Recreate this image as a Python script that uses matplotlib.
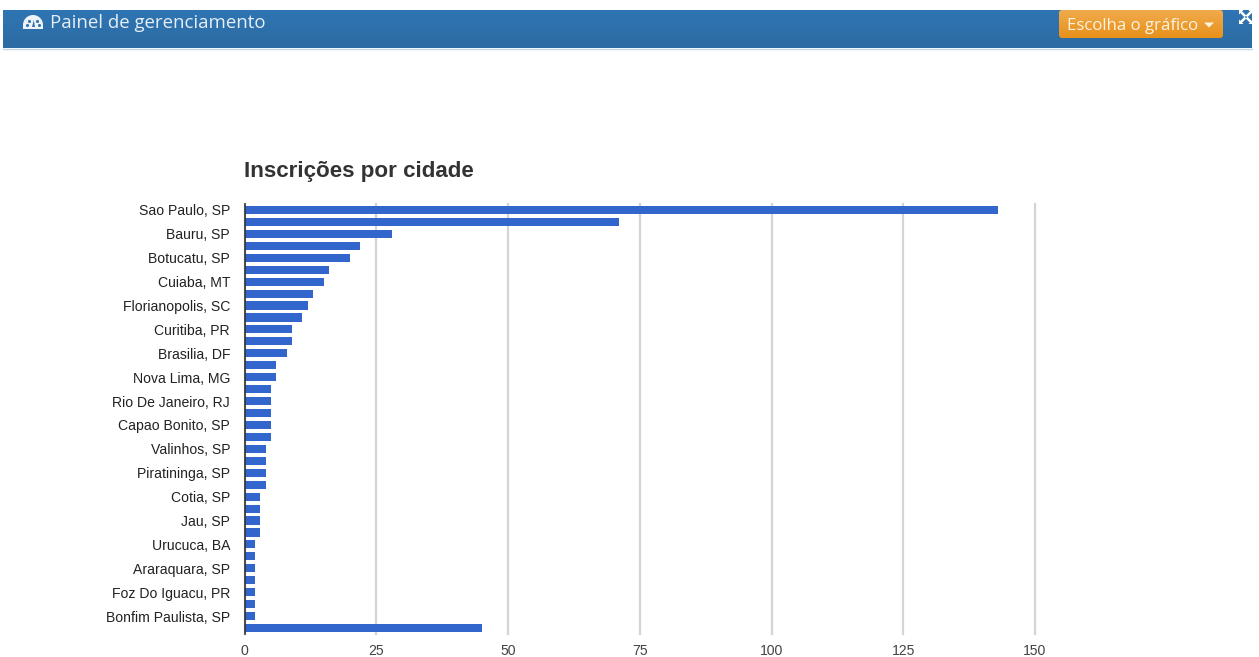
"""
Inscrições por cidade - painel de gerenciamento
"""
import numpy as np
import matplotlib
matplotlib.use('Agg')
from matplotlib import pyplot as plt
from matplotlib.colors import LinearSegmentedColormap
from matplotlib.patches import FancyBboxPatch, Wedge, Polygon, Rectangle

W, H = 1259, 657

# 只有偶数位的城市显示标签
cityLabels = ['Sao Paulo, SP', 'Bauru, SP', 'Botucatu, SP', 'Cuiaba, MT',
              'Florianopolis, SC', 'Curitiba, PR', 'Brasilia, DF',
              'Nova Lima, MG', 'Rio De Janeiro, RJ', 'Capao Bonito, SP',
              'Valinhos, SP', 'Piratininga, SP', 'Cotia, SP', 'Jau, SP',
              'Urucuca, BA', 'Araraquara, SP', 'Foz Do Iguacu, PR',
              'Bonfim Paulista, SP']
inscricoes = [143, 71, 28, 22, 20, 16, 15, 13, 12, 11, 9, 9, 8, 6, 6, 5, 5, 5,
              5, 5, 4, 4, 4, 4, 3, 3, 3, 3, 2, 2, 2, 2, 2, 2, 2, 45]
xTicks = [0, 25, 50, 75, 100, 125, 150]

plt.rcParams['font.family'] = ['Liberation Sans', 'DejaVu Sans']

fig = plt.figure(figsize=(W / 100, H / 100), dpi=100, facecolor='white')

# 页面层, 像素坐标
bg = fig.add_axes([0, 0, 1, 1])
bg.axis('off')

# 顶部蓝色条
grad = np.linspace(0, 1, 40).reshape(-1, 1)
bg.imshow(grad, extent=(3, 1252, 48, 10), aspect='auto', zorder=1,
          cmap=LinearSegmentedColormap.from_list('bar', ['#2f75b3', '#2c6ba3']))
bg.plot([3, 1252], [48.5, 48.5], color='#c5d8ea', lw=1, zorder=2)

# 仪表盘图标
iconColor = '#eef3f8'
bg.add_patch(Wedge((33, 25), 10, 180, 360, facecolor=iconColor, lw=0, zorder=3))
bg.add_patch(Rectangle((23, 25), 20, 4, facecolor=iconColor, lw=0, zorder=3))
bg.add_patch(Polygon([(32, 27), (35, 27), (33.8, 20)], facecolor='#2f75b3', zorder=4))
bg.scatter([27, 29.5, 37, 39.5], [25, 20.5, 20.5, 25], s=5, color='#2f75b3', zorder=4, linewidths=0)
bg.text(50, 22.5, 'Painel de gerenciamento', color='#e6eef6', fontsize=13.45,
        family='Open Sans', va='center', ha='left', zorder=3)

# 下拉按钮
btn = FancyBboxPatch((1061, 12), 160, 24, boxstyle='round,pad=2,rounding_size=3',
                     facecolor='none', edgecolor='none', zorder=3)
bg.add_patch(btn)
btnFill = bg.imshow(grad, extent=(1059, 1223, 38, 10), aspect='auto', zorder=3,
                    cmap=LinearSegmentedColormap.from_list('btn', ['#f0ab4c', '#e8911a']))
btnFill.set_clip_path(btn)
bg.text(1067, 25.5, 'Escolha o gráfico', color='#fdf3e3', fontsize=12.1,
        family='Open Sans', va='center', ha='left', zorder=4)
bg.add_patch(Polygon([(1204, 22.5), (1214, 22.5), (1209, 27.5)], facecolor='#fdf3e3', lw=0, zorder=4))

# 右上角展开图标
iconBox = Rectangle((1238, 10), 14, 18, transform=bg.transData, facecolor='none', lw=0)
bg.add_patch(iconBox)
for dx, dy in [(-1, -1), (1, -1), (-1, 1), (1, 1)]:
    cx, cy = 1246, 17
    line, = bg.plot([cx + dx * 1.5, cx + dx * 5], [cy + dy * 1.5, cy + dy * 5],
                    color='white', lw=1.8, zorder=4)
    tri = Polygon([(cx + dx * 7, cy + dy * 7), (cx + dx * 2.5, cy + dy * 7), (cx + dx * 7, cy + dy * 2.5)],
                  facecolor='white', lw=0, zorder=4)
    bg.add_patch(tri)
    tri.set_clip_path(iconBox)
    line.set_clip_path(iconBox)

bg.set_xlim(0, W)
bg.set_ylim(H, 0)

# 图表
ax = fig.add_axes([244.5 / W, 1 - 634 / H, (1035 - 244.5) / W, (634 - 204) / H], zorder=5)
ax.patch.set_alpha(0)
pos = np.arange(len(inscricoes))
ax.barh(pos, inscricoes, height=0.68, color='#3366cc', zorder=3)
ax.set_xlim(0, 150)
ax.set_ylim(len(inscricoes) - 0.5, -0.5)
ax.set_yticks(pos[:len(cityLabels) * 2][::2])
ax.set_yticklabels(cityLabels, fontsize=10.05, color='#222222')
ax.set_xticks(xTicks)
ax.set_xticklabels(xTicks, fontsize=10.05, color='#444444')
ax.tick_params(axis='both', length=0)
ax.tick_params(axis='y', pad=10.4)
ax.tick_params(axis='x', pad=7.2)
ax.grid(axis='x', color='#d4d4d4', lw=1.6, zorder=0)
for gl in ax.get_xgridlines():
    gl.set_clip_on(False)
ax.set_axisbelow(True)
for side in ['top', 'right', 'bottom']:
    ax.spines[side].set_visible(False)
ax.spines['left'].set_color('#333333')
ax.spines['left'].set_linewidth(1.2)
ax.spines['left'].set_zorder(4)

fig.text(244 / W, 1 - 172 / H, 'Inscrições por cidade', fontsize=16.1, fontweight='bold',
         color='#333333', va='center', ha='left')

fig.savefig('out.png', dpi=100)
